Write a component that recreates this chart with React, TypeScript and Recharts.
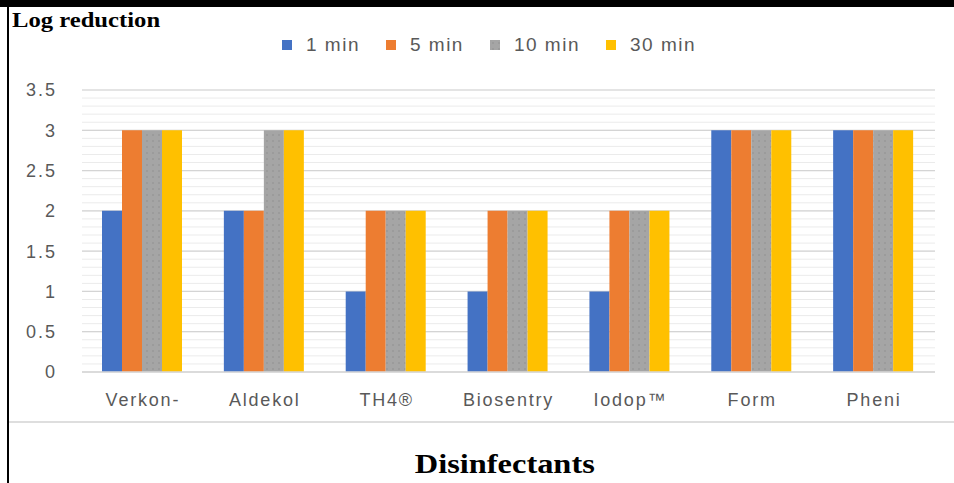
import React from "react"
import {
  BarChart,
  Bar,
  XAxis,
  YAxis,
  CartesianGrid,
  Legend,
} from "recharts"

// disinfectants on the x axis
const categories = ["Verkon-", "Aldekol", "TH4®", "Biosentry", "Iodop™", "Form", "Pheni"]

// log reduction per contact time
const min1 = [2, 2, 1, 1, 1, 3, 3]
const min5 = [3, 2, 2, 2, 2, 3, 3]
const min10 = [3, 3, 2, 2, 2, 3, 3]
const min30 = [3, 3, 2, 2, 2, 3, 3]

const seriesNames = ["1 min", "5 min", "10 min", "30 min"]
const seriesKeys = ["m1", "m5", "m10", "m30"]
const seriesColors = ["#4472c4", "#ed7d31", "url(#grayDots)", "#ffc000"]

const yDomain = [0, 3.5]
const majorTicks = [0, 0.5, 1, 1.5, 2, 2.5, 3, 3.5]
const minorTicks = [
  0, 0.1, 0.2, 0.3, 0.4, 0.5, 0.6, 0.7, 0.8, 0.9, 1, 1.1, 1.2, 1.3, 1.4, 1.5, 1.6, 1.7,
  1.8, 1.9, 2, 2.1, 2.2, 2.3, 2.4, 2.5, 2.6, 2.7, 2.8, 2.9, 3, 3.1, 3.2, 3.3, 3.4, 3.5,
]

const data = categories.map((name, i) => ({
  name,
  m1: min1[i],
  m5: min5[i],
  m10: min10[i],
  m30: min30[i],
}))

const TEXT = "#595959"
const SANS = "'Liberation Sans', Arial, sans-serif"
const SERIF = "'Liberation Serif', 'Times New Roman', serif"

// legend keeps the series order, not alphabetical
function renderLegend() {
  return (
    <div style={{ display: "flex", alignItems: "center", gap: 26, height: 20 }}>
      {seriesNames.map((name, i) => (
        <div key={name} style={{ display: "flex", alignItems: "center" }}>
          <svg width={10} height={10} style={{ marginRight: 14 }}>
            <rect width={10} height={10} fill={seriesColors[i]} />
          </svg>
          <span
            style={{
              fontFamily: SANS,
              fontSize: 19,
              letterSpacing: 1.5,
              color: TEXT,
              lineHeight: "20px",
            }}
          >
            {name}
          </span>
        </div>
      ))}
    </div>
  )
}

// minor grid every 0.1
function minorLines(props: any) {
  const scale = props?.yAxis?.scale
  if (typeof scale === "function") return minorTicks.map((t) => scale(t))
  const off = props?.offset
  if (!off) return []
  return minorTicks.map((t) => off.top + off.height * (1 - (t - yDomain[0]) / (yDomain[1] - yDomain[0])))
}

export default function App() {
  return (
    <div
      style={{
        position: "absolute",
        left: 0,
        top: 0,
        width: 954,
        height: 483,
        background: "#fff",
        overflow: "hidden",
      }}
    >
      {/* frame */}
      <div style={{ position: "absolute", left: 0, top: 0, width: 954, height: 7, background: "#000" }} />
      <div style={{ position: "absolute", left: 7, top: 7, width: 2, height: 476, background: "#000" }} />
      <div style={{ position: "absolute", left: 9, top: 421, width: 945, height: 2, background: "#dedede" }} />

      <div
        style={{
          position: "absolute",
          left: 12,
          top: 9,
          fontFamily: SERIF,
          fontWeight: "bold",
          fontSize: 22,
          lineHeight: 1,
          color: "#000",
          transform: "scaleX(1.12)",
          transformOrigin: "left top",
          whiteSpace: "nowrap",
        }}
      >
        Log reduction
      </div>

      <div
        style={{
          position: "absolute",
          left: 0,
          width: 1010,
          top: 451,
          textAlign: "center",
          fontFamily: SERIF,
          fontWeight: "bold",
          fontSize: 27,
          lineHeight: 1,
          color: "#000",
          transform: "scaleX(1.2)",
          transformOrigin: "506px top",
          whiteSpace: "nowrap",
        }}
      >
        Disinfectants
      </div>

      <div style={{ position: "absolute", left: 0, top: 0 }}>
        <BarChart
          width={954}
          height={483}
          data={data}
          margin={{ top: 70, right: 19, bottom: 81, left: 0 }}
          barCategoryGap={20}
          barGap={0}
        >
          <defs>
            <pattern id="grayDots" width={6} height={6} patternUnits="userSpaceOnUse">
              <rect width={6} height={6} fill="#a5a5a5" />
              <circle cx={3} cy={3} r={0.8} fill="#8e8e8e" />
            </pattern>
          </defs>
          <CartesianGrid
            vertical={false}
            stroke="#ebebeb"
            strokeWidth={1}
            horizontalCoordinatesGenerator={minorLines}
          />
          <CartesianGrid vertical={false} stroke="#d4d4d4" strokeWidth={1.2} />
          <XAxis
            dataKey="name"
            axisLine={{ stroke: "#d9d9d9", strokeWidth: 1.5 }}
            tickLine={false}
            tickSize={0}
            tickMargin={21}
            height={30}
            interval={0}
            tick={{ fill: TEXT, fontFamily: SANS, fontSize: 18, letterSpacing: 1.8 }}
          />
          <YAxis
            width={82}
            domain={yDomain}
            ticks={majorTicks}
            axisLine={false}
            tickLine={false}
            tickSize={0}
            tickMargin={25}
            tick={{ fill: TEXT, fontFamily: SANS, fontSize: 18, letterSpacing: 2 }}
          />
          <Legend
            verticalAlign="top"
            height={20}
            content={renderLegend}
            wrapperStyle={{ position: "absolute", top: 35, left: 282, width: "auto" }}
          />
          {seriesKeys.map((key, i) => (
            <Bar
              key={key}
              dataKey={key}
              name={seriesNames[i]}
              fill={seriesColors[i]}
              isAnimationActive={false}
            />
          ))}
        </BarChart>
      </div>
    </div>
  )
}
